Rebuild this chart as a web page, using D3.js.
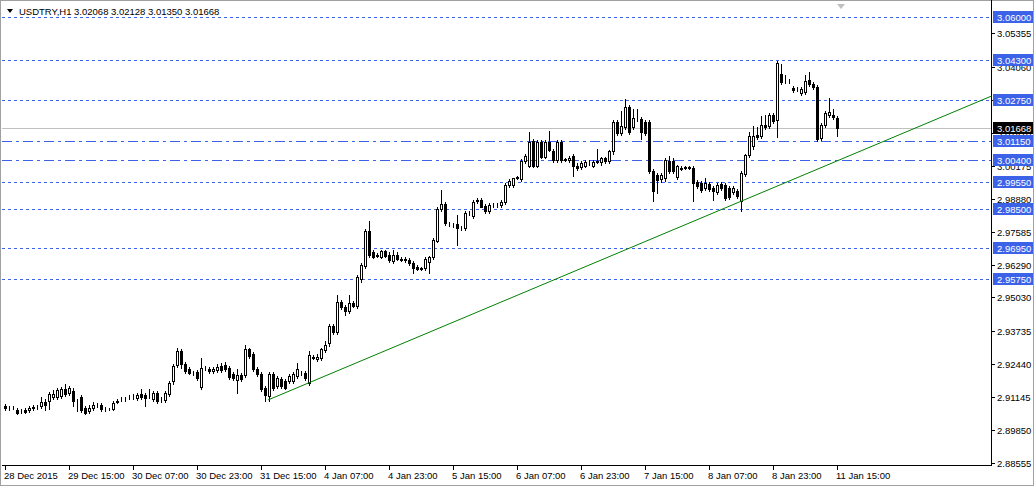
<!DOCTYPE html>
<html>
<head>
<meta charset="utf-8">
<script src="https://cdn.jsdelivr.net/npm/d3@7"></script>
<style>
  body { margin: 0; background: #fff; }
  svg { display: block; font-family: "Liberation Sans", Arial, sans-serif; }
</style>
</head>
<body>
<div id="chart"></div>
<script>
// hourly bars: open, high, low, close
const ohlc = [
  [2.9079,2.9087,2.9064,2.9071],[2.9071,2.9079,2.9064,2.9071],[2.9072,2.9078,2.9065,2.9070],[2.9064,2.9071,2.9048,2.9052],
  [2.9060,2.9067,2.9052,2.9060],[2.9064,2.9071,2.9052,2.9056],[2.9064,2.9079,2.9056,2.9071],[2.9075,2.9083,2.9064,2.9071],
  [2.9075,2.9083,2.9067,2.9076],[2.9079,2.9114,2.9071,2.9094],[2.9094,2.9106,2.9064,2.9083],[2.9098,2.9133,2.9067,2.9125],
  [2.9114,2.9141,2.9106,2.9125],[2.9114,2.9149,2.9106,2.9141],[2.9118,2.9153,2.9110,2.9145],[2.9145,2.9164,2.9118,2.9125],
  [2.9129,2.9156,2.9122,2.9149],[2.9137,2.9149,2.9079,2.9098],[2.9098,2.9106,2.9060,2.9099],[2.9114,2.9122,2.9056,2.9064],
  [2.9071,2.9079,2.9048,2.9052],[2.9060,2.9083,2.9052,2.9071],[2.9071,2.9094,2.9064,2.9083],[2.9083,2.9090,2.9075,2.9084],
  [2.9083,2.9090,2.9060,2.9067],[2.9067,2.9075,2.9060,2.9068],[2.9068,2.9071,2.9064,2.9067],[2.9067,2.9098,2.9064,2.9091],
  [2.9094,2.9106,2.9091,2.9098],[2.9106,2.9114,2.9098,2.9107],[2.9107,2.9114,2.9098,2.9106],[2.9114,2.9122,2.9106,2.9115],
  [2.9115,2.9125,2.9106,2.9114],[2.9110,2.9129,2.9102,2.9122],[2.9125,2.9145,2.9106,2.9114],[2.9122,2.9129,2.9079,2.9110],
  [2.9122,2.9145,2.9110,2.9121],[2.9106,2.9137,2.9098,2.9129],[2.9129,2.9137,2.9091,2.9098],[2.9106,2.9114,2.9094,2.9107],
  [2.9102,2.9137,2.9094,2.9129],[2.9125,2.9176,2.9118,2.9168],[2.9176,2.9242,2.9164,2.9234],[2.9238,2.9304,2.9230,2.9292],
  [2.9292,2.9300,2.9226,2.9242],[2.9242,2.9250,2.9207,2.9215],[2.9222,2.9230,2.9203,2.9207],[2.9207,2.9214,2.9199,2.9206],
  [2.9211,2.9218,2.9180,2.9187],[2.9153,2.9265,2.9145,2.9226],[2.9226,2.9234,2.9218,2.9227],[2.9222,2.9230,2.9207,2.9214],
  [2.9214,2.9230,2.9207,2.9222],[2.9218,2.9242,2.9211,2.9230],[2.9234,2.9245,2.9211,2.9218],[2.9238,2.9249,2.9214,2.9222],
  [2.9226,2.9234,2.9183,2.9191],[2.9203,2.9211,2.9180,2.9187],[2.9180,2.9222,2.9129,2.9199],[2.9199,2.9207,2.9176,2.9183],
  [2.9199,2.9319,2.9191,2.9300],[2.9300,2.9307,2.9265,2.9273],[2.9280,2.9288,2.9214,2.9222],[2.9222,2.9230,2.9195,2.9203],
  [2.9203,2.9211,2.9137,2.9145],[2.9149,2.9157,2.9098,2.9122],[2.9118,2.9211,2.9098,2.9203],[2.9203,2.9211,2.9141,2.9149],
  [2.9156,2.9195,2.9149,2.9187],[2.9183,2.9191,2.9149,2.9156],[2.9176,2.9183,2.9145,2.9149],[2.9176,2.9203,2.9168,2.9195],
  [2.9176,2.9211,2.9168,2.9203],[2.9195,2.9245,2.9187,2.9222],[2.9207,2.9214,2.9199,2.9206],[2.9207,2.9214,2.9180,2.9187],
  [2.9168,2.9292,2.9160,2.9276],[2.9269,2.9276,2.9261,2.9268],[2.9261,2.9280,2.9253,2.9269],[2.9265,2.9304,2.9257,2.9300],
  [2.9296,2.9331,2.9288,2.9319],[2.9323,2.9400,2.9315,2.9392],[2.9392,2.9400,2.9362,2.9369],[2.9369,2.9513,2.9362,2.9485],
  [2.9485,2.9493,2.9458,2.9466],[2.9466,2.9474,2.9435,2.9451],[2.9451,2.9513,2.9443,2.9482],[2.9482,2.9489,2.9466,2.9470],
  [2.9470,2.9590,2.9462,2.9582],[2.9574,2.9636,2.9563,2.9629],[2.9625,2.9772,2.9617,2.9764],[2.9764,2.9803,2.9663,2.9671],
  [2.9679,2.9687,2.9656,2.9663],[2.9667,2.9675,2.9660,2.9668],[2.9663,2.9690,2.9656,2.9683],[2.9683,2.9690,2.9660,2.9667],
  [2.9671,2.9679,2.9640,2.9648],[2.9644,2.9687,2.9636,2.9671],[2.9671,2.9679,2.9648,2.9652],[2.9652,2.9660,2.9644,2.9651],
  [2.9652,2.9660,2.9640,2.9648],[2.9648,2.9656,2.9629,2.9636],[2.9636,2.9644,2.9598,2.9617],[2.9621,2.9629,2.9609,2.9613],
  [2.9617,2.9621,2.9609,2.9616],[2.9617,2.9660,2.9609,2.9652],[2.9640,2.9667,2.9598,2.9660],[2.9660,2.9737,2.9652,2.9729],
  [2.9725,2.9857,2.9718,2.9849],[2.9849,2.9923,2.9842,2.9869],[2.9869,2.9877,2.9787,2.9795],[2.9791,2.9799,2.9783,2.9790],
  [2.9787,2.9795,2.9779,2.9788],[2.9791,2.9826,2.9710,2.9776],[2.9776,2.9783,2.9768,2.9775],[2.9776,2.9841,2.9768,2.9834],
  [2.9834,2.9841,2.9826,2.9835],[2.9822,2.9884,2.9814,2.9876],[2.9880,2.9892,2.9872,2.9884],[2.9884,2.9892,2.9857,2.9857],
  [2.9861,2.9869,2.9834,2.9842],[2.9842,2.9872,2.9834,2.9865],[2.9865,2.9872,2.9857,2.9864],[2.9864,2.9872,2.9857,2.9865],
  [2.9865,2.9884,2.9857,2.9876],[2.9876,2.9950,2.9868,2.9942],[2.9942,2.9965,2.9934,2.9957],[2.9942,2.9969,2.9934,2.9969],
  [2.9973,2.9980,2.9965,2.9972],[2.9965,3.0043,2.9957,3.0035],[3.0035,3.0066,3.0027,3.0058],[3.0019,3.0151,3.0012,3.0112],
  [3.0116,3.0124,3.0012,3.0019],[3.0019,3.0120,3.0012,3.0112],[3.0112,3.0120,3.0047,3.0054],[3.0054,3.0120,3.0047,3.0112],
  [3.0112,3.0155,3.0074,3.0081],[3.0077,3.0085,3.0031,3.0039],[3.0039,3.0120,3.0031,3.0112],[3.0112,3.0120,3.0031,3.0039],
  [3.0043,3.0050,3.0035,3.0042],[3.0039,3.0058,3.0031,3.0050],[3.0058,3.0066,2.9980,3.0019],[3.0019,3.0027,3.0000,3.0008],
  [3.0012,3.0035,3.0004,3.0027],[3.0019,3.0039,3.0012,3.0031],[3.0031,3.0039,3.0023,3.0032],[3.0019,3.0039,3.0012,3.0031],
  [3.0035,3.0085,3.0027,3.0034],[3.0031,3.0054,3.0023,3.0047],[3.0047,3.0054,3.0027,3.0035],[3.0035,3.0081,3.0027,3.0074],
  [3.0074,3.0198,3.0066,3.0190],[3.0190,3.0198,3.0139,3.0147],[3.0147,3.0232,3.0139,3.0174],[3.0170,3.0279,3.0163,3.0248],
  [3.0248,3.0256,3.0143,3.0151],[3.0170,3.0240,3.0163,3.0205],[3.0201,3.0240,3.0194,3.0202],[3.0201,3.0209,3.0124,3.0151],
  [3.0190,3.0198,3.0139,3.0147],[3.0190,3.0198,2.9988,2.9996],[2.9996,3.0004,2.9880,2.9919],[2.9981,2.9988,2.9911,2.9961],
  [2.9965,2.9988,2.9954,2.9981],[2.9969,3.0047,2.9957,3.0039],[3.0035,3.0058,2.9988,2.9996],[3.0035,3.0047,2.9988,2.9996],
  [2.9973,3.0023,2.9965,3.0016],[3.0008,3.0016,3.0000,3.0007],[3.0012,3.0019,3.0004,3.0011],[3.0011,3.0019,3.0004,3.0012],
  [3.0008,3.0016,2.9880,2.9950],[2.9954,2.9961,2.9930,2.9938],[2.9950,2.9957,2.9915,2.9923],[2.9930,2.9969,2.9923,2.9950],
  [2.9946,2.9954,2.9919,2.9926],[2.9930,2.9938,2.9884,2.9919],[2.9915,2.9950,2.9907,2.9942],[2.9946,2.9954,2.9923,2.9930],
  [2.9942,2.9950,2.9884,2.9892],[2.9930,2.9938,2.9888,2.9896],[2.9915,2.9938,2.9907,2.9930],[2.9919,2.9926,2.9892,2.9899],
  [2.9880,2.9996,2.9841,2.9988],[2.9985,3.0066,2.9977,3.0062],[3.0062,3.0151,3.0054,3.0136],[3.0097,3.0174,3.0085,3.0136],
  [3.0139,3.0170,3.0124,3.0132],[3.0136,3.0213,3.0128,3.0178],[3.0178,3.0217,3.0163,3.0170],[3.0174,3.0225,3.0167,3.0217],
  [3.0217,3.0225,3.0186,3.0194],[3.0198,3.0426,3.0132,3.0422],[3.0379,3.0418,3.0337,3.0344],[3.0348,3.0375,3.0341,3.0348],
  [3.0348,3.0356,3.0341,3.0349],[3.0321,3.0329,3.0306,3.0313],[3.0317,3.0325,3.0310,3.0317],[3.0302,3.0325,3.0294,3.0317],
  [3.0306,3.0372,3.0298,3.0348],[3.0352,3.0383,3.0329,3.0337],[3.0337,3.0344,3.0317,3.0325],[3.0325,3.0333,3.0116,3.0124],
  [3.0128,3.0186,3.0120,3.0178],[3.0178,3.0233,3.0170,3.0225],[3.0217,3.0283,3.0209,3.0229],[3.0217,3.0240,3.0201,3.0209],
  [3.02068,3.02128,3.01350,3.01668]
];

const timeLabels = ["28 Dec 2015","29 Dec 15:00","30 Dec 07:00","30 Dec 23:00","31 Dec 15:00","4 Jan 07:00","4 Jan 23:00",
  "5 Jan 15:00","6 Jan 07:00","6 Jan 23:00","7 Jan 15:00","8 Jan 07:00","8 Jan 23:00","11 Jan 15:00"];
const priceTicks = [3.05355,3.04060,3.02765,3.01470,3.00175,2.98880,2.97585,2.96290,2.95030,2.93735,2.92440,2.91145,2.89850,2.88555];
const dottedLevels = [3.06000,3.04300,3.02750,2.99550,2.98500,2.96950,2.95750];
const dashDotLevels = [3.01150,3.00400];
const lastPrice = 3.01668;
const trendLine = [[65.75,2.9102],[246.5,3.0290]];

const W = 1036, H = 488, plotR = 991, plotB = 465;
const svg = d3.select("#chart").append("svg").attr("width", W).attr("height", H);

const x = d3.scaleLinear().domain([0, 246.5]).range([5, plotR]);
const y = d3.scaleLinear().domain([2.88555, 3.06]).range([463, 17]);

// window frame
svg.append("rect").attr("x", 0.5).attr("y", 0.5).attr("width", W - 3).attr("height", H - 3)
  .attr("fill", "none").attr("stroke", "#a0a0a0");
svg.append("line").attr("x1", plotR + 0.5).attr("x2", plotR + 0.5).attr("y1", 0).attr("y2", plotB)
  .attr("stroke", "#000");
svg.append("line").attr("x1", 2).attr("x2", plotR + 1).attr("y1", plotB + 0.5).attr("y2", plotB + 0.5)
  .attr("stroke", "#000");

const plot = svg.append("g");

// horizontal levels
plot.selectAll(".lvl").data(dottedLevels).join("line")
  .attr("x1", 2).attr("x2", plotR).attr("y1", d => Math.round(y(d)) + 0.5).attr("y2", d => Math.round(y(d)) + 0.5)
  .attr("stroke", "#3c62e8").attr("stroke-dasharray", "3,3");
plot.selectAll(".lvl2").data(dashDotLevels).join("line")
  .attr("x1", 2).attr("x2", plotR).attr("y1", d => Math.round(y(d)) + 0.5).attr("y2", d => Math.round(y(d)) + 0.5)
  .attr("stroke", "#3c62e8").attr("stroke-dasharray", "10,4,3,4");
plot.append("line").attr("x1", 2).attr("x2", plotR)
  .attr("y1", Math.round(y(lastPrice)) + 0.5).attr("y2", Math.round(y(lastPrice)) + 0.5).attr("stroke", "#c0c0c0");

// candles
const candle = plot.selectAll(".c").data(ohlc).join("g");
candle.append("line")
  .attr("x1", (d, i) => Math.round(x(i)) + 0.5).attr("x2", (d, i) => Math.round(x(i)) + 0.5)
  .attr("y1", d => Math.round(y(d[1]))).attr("y2", d => Math.round(y(d[2])) + 1)
  .attr("stroke", "#000");
candle.append("rect")
  .attr("x", (d, i) => Math.round(x(i)) - 1 + 0.5)
  .attr("y", d => Math.round(y(Math.max(d[0], d[3]))) + 0.5)
  .attr("width", 2)
  .attr("height", d => Math.max(0, Math.round(y(Math.min(d[0], d[3]))) - Math.round(y(Math.max(d[0], d[3])))))
  .attr("fill", d => d[3] >= d[0] ? "#fff" : "#000")
  .attr("stroke", "#000");

// trend line
plot.append("line")
  .attr("x1", x(trendLine[0][0])).attr("y1", y(trendLine[0][1]))
  .attr("x2", x(trendLine[1][0])).attr("y2", y(trendLine[1][1]))
  .attr("stroke", "#008000");

// price axis
const pAxis = svg.append("g");
pAxis.selectAll("line").data(priceTicks).join("line")
  .attr("x1", plotR).attr("x2", plotR + 4)
  .attr("y1", d => Math.round(y(d)) + 0.5).attr("y2", d => Math.round(y(d)) + 0.5).attr("stroke", "#000");
pAxis.selectAll("text").data(priceTicks).join("text")
  .attr("x", 997).attr("y", d => y(d) + 4).attr("font-size", 9.5).attr("fill", "#000")
  .text(d => d.toFixed(5));

const labels = svg.append("g");
function tag(v, fill) {
  const cy = Math.round(y(v));
  labels.append("rect").attr("x", 993).attr("y", cy - 6).attr("width", 40).attr("height", 12).attr("fill", fill);
  labels.append("text").attr("x", 997).attr("y", cy + 4).attr("font-size", 9.5).attr("fill", "#fff").text(v.toFixed(5));
}
dottedLevels.concat(dashDotLevels).forEach(v => tag(v, "#3c62e8"));
tag(lastPrice, "#000");

// time axis
const tAxis = svg.append("g");
tAxis.selectAll("line").data(timeLabels).join("line")
  .attr("x1", (d, i) => Math.round(x(i * 16)) + 0.5).attr("x2", (d, i) => Math.round(x(i * 16)) + 0.5)
  .attr("y1", plotB).attr("y2", plotB + 5).attr("stroke", "#000");
tAxis.selectAll("text").data(timeLabels).join("text")
  .attr("x", (d, i) => x(i * 16) - 1).attr("y", 479).attr("font-size", 9.5).attr("fill", "#000")
  .text(d => d);

// header
svg.append("path").attr("d", "M7,9 L13,9 L10,13 Z").attr("fill", "#000");
svg.append("text").attr("x", 19).attr("y", 15).attr("font-size", 9.5).attr("fill", "#000")
  .text("USDTRY,H1  3.02068 3.02128 3.01350 3.01668");
svg.append("path").attr("d", "M837,4 L845,4 L841,9 Z").attr("fill", "#c0c0c0");
</script>
</body>
</html>
